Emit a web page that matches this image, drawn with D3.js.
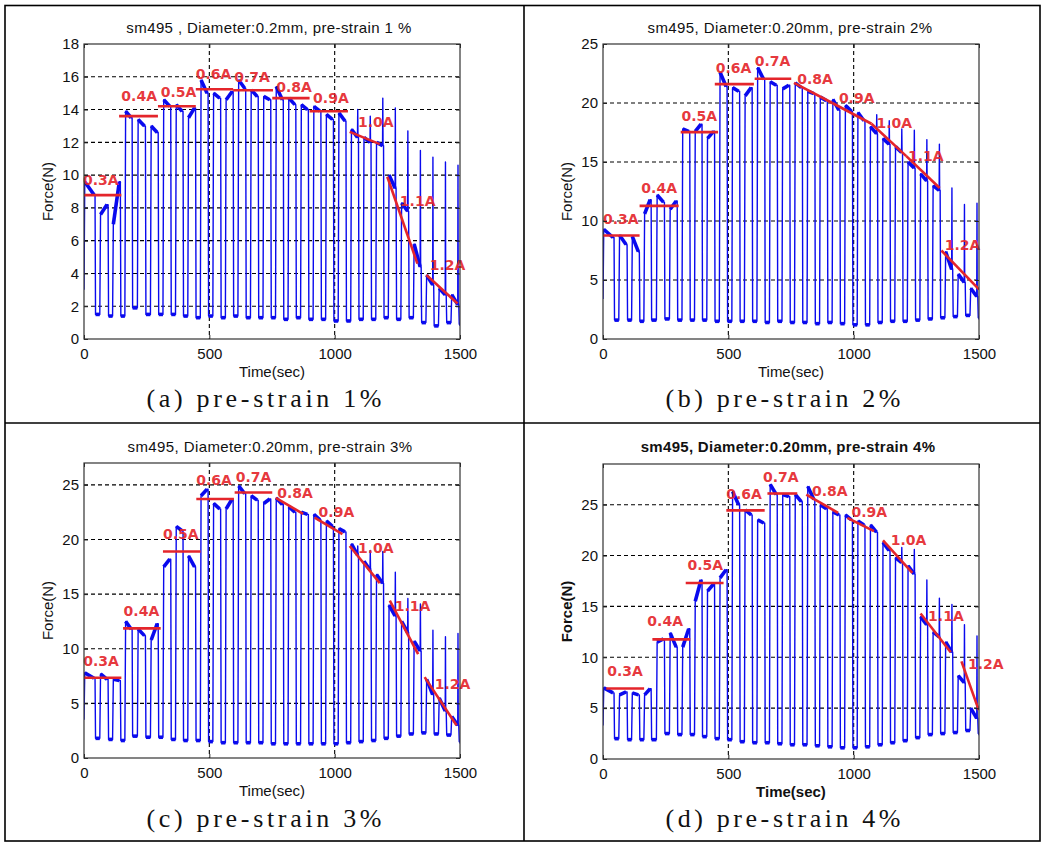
<!DOCTYPE html>
<html><head><meta charset="utf-8">
<script src="https://cdn.jsdelivr.net/npm/d3@7/dist/d3.min.js"></script>
<style>body{margin:0;background:#fff} svg{display:block}</style>
</head><body>
<svg id="chart" width="1050" height="847"></svg>
<script>
// ---------- shared data ----------
const currents = ["0.3A","0.4A","0.5A","0.6A","0.7A","0.8A","0.9A","1.0A","1.1A","1.2A"];
const xTicks = [0, 500, 1000, 1500];
// heating on / off times of each of the 30 cycles (sec)
const onT  = [0, 63, 114, 163, 213, 265, 315, 365, 414, 464, 514, 564, 614, 664, 714, 764, 814, 864, 914, 964, 1014, 1064, 1114, 1164, 1214, 1264, 1314, 1364, 1414, 1464];
const offT = [44, 96, 145, 192, 245, 296, 346, 395, 445, 495, 545, 595, 645, 695, 745, 795, 845, 895, 945, 995, 1045, 1095, 1145, 1195, 1245, 1295, 1345, 1395, 1445, 1495];

// ---------- panel (a) ----------
const aTitle = "sm495 , Diameter:0.2mm, pre-strain 1 %";
const aCaption = "(a) pre-strain 1%";
const aYTicks = [0, 2, 4, 6, 8, 10, 12, 14, 16, 18];
const aYMax = 18;
const aStart = 3.0;
const aHi    = [9.6, 7.6, 7.0, 13.9, 13.4, 13.0, 14.6, 14.3, 13.5, 15.8, 15.0, 14.6, 15.8, 15.2, 14.8, 15.4, 14.7, 14.3, 14.2, 13.7, 13.8, 12.8, 12.3, 12.0, 10.0, 8.3, 5.8, 3.9, 3.1, 2.7];
const aEnd   = [8.8, 8.2, 9.6, 13.5, 13.0, 12.6, 14.2, 13.9, 14.1, 15.0, 14.7, 15.1, 15.3, 14.8, 14.6, 14.6, 14.3, 14.0, 13.9, 13.4, 13.3, 12.3, 12.0, 11.8, 9.2, 7.8, 4.4, 3.3, 2.7, 2.1];
const aLo    = [1.5, 1.4, 1.4, 1.9, 1.5, 1.5, 1.5, 1.4, 1.3, 1.4, 1.3, 1.4, 1.3, 1.3, 1.3, 1.2, 1.3, 1.2, 1.2, 1.1, 1.1, 1.2, 1.2, 1.3, 1.2, 1.3, 1.0, 0.8, 1.0, 0.9];
const aSpike = [0, 0, 0, 0, 0, 0, 0, 0, 0, 0, 0, 0, 0, 0, 0, 0, 0, 0, 0, 0, 0, 14.0, 13.6, 14.7, 14.1, 12.7, 11.5, 11.1, 10.8, 10.6];
// red fit lines [t1, v1, t2, v2] and label anchors [t, v]
const aFit = [[0,8.78,149,8.78],[140,13.6,295,13.6],[295,14.2,446,14.2],[446,15.24,595,15.24],[595,15.18,754,15.18],[751,14.7,900,14.7],[900,13.9,1053,13.9],[1060,12.64,1180,11.89],[1210,9.9,1330,4.6],[1366,3.9,1490,2.17]];
const aLab = [[-4,9.7],[149,14.8],[306,15.1],[446,16.2],[599,16.0],[767,15.35],[914,14.7],[1093,13.25],[1260,8.4],[1379,4.5]];

// ---------- panel (b) ----------
const bTitle = "sm495, Diameter:0.20mm, pre-strain 2%";
const bCaption = "(b) pre-strain 2%";
const bYTicks = [0, 5, 10, 15, 20, 25];
const bYMax = 25;
const bStart = 3.4;
const bHi    = [9.3, 8.8, 8.7, 10.6, 12.2, 11.0, 17.8, 17.6, 17.0, 22.6, 21.3, 20.6, 23.0, 21.8, 21.2, 21.7, 21.0, 20.5, 20.3, 19.8, 19.2, 18.0, 17.0, 16.3, 15.0, 14.0, 13.0, 7.4, 5.5, 4.3];
const bEnd   = [8.6, 8.0, 7.4, 11.8, 11.6, 11.7, 17.6, 18.2, 17.6, 21.4, 21.0, 21.3, 22.0, 21.5, 21.5, 21.3, 20.8, 20.2, 19.4, 19.3, 18.5, 17.4, 16.5, 15.8, 14.5, 13.4, 12.6, 5.9, 4.8, 3.6];
const bLo    = [1.6, 1.6, 1.5, 1.6, 1.7, 1.6, 1.6, 1.6, 1.5, 1.5, 1.5, 1.5, 1.4, 1.5, 1.4, 1.4, 1.3, 1.4, 1.3, 1.2, 1.2, 1.4, 1.5, 1.5, 1.6, 1.7, 1.8, 1.9, 2.0, 1.8];
const bSpike = [0, 0, 0, 0, 0, 0, 0, 0, 0, 0, 0, 0, 0, 0, 0, 0, 0, 0, 0, 0, 0, 19.0, 18.5, 17.8, 17.7, 16.9, 16.5, 12.8, 11.4, 11.5];
const bFit = [[0,8.77,146,8.77],[146,11.28,302,11.28],[310,17.53,459,17.53],[446,21.6,602,21.6],[605,22.06,751,22.06],[762,21.7,915,20.0],[915,20.0,1071,18.24],[1071,18.24,1210,15.5],[1210,15.5,1343,12.8],[1350,7.5,1500,4.2]];
const bLab = [[0,10.2],[153,12.8],[313,18.9],[450,22.96],[605,23.6],[775,22.0],[941,20.4],[1091,18.3],[1217,15.5],[1363,8.0]];

// ---------- panel (c) ----------
const cTitle = "sm495, Diameter:0.20mm, pre-strain 3%";
const cCaption = "(c) pre-strain 3%";
const cYTicks = [0, 5, 10, 15, 20, 25];
const cYMax = 27;
const cStart = 3.5;
const cHi    = [7.8, 7.7, 7.2, 12.5, 11.8, 10.8, 17.5, 21.2, 18.5, 24.0, 23.3, 22.8, 24.9, 24.0, 23.3, 23.8, 23.0, 22.5, 22.3, 21.7, 21.0, 19.6, 18.0, 16.8, 14.0, 12.5, 10.7, 7.2, 5.5, 3.8];
const cEnd   = [7.3, 7.2, 7.1, 11.8, 11.2, 12.3, 18.2, 20.8, 17.5, 24.6, 22.8, 23.7, 24.2, 23.6, 23.7, 23.2, 22.5, 22.3, 21.8, 21.2, 20.7, 18.6, 17.2, 16.0, 13.0, 11.5, 9.8, 5.8, 4.3, 3.0];
const cLo    = [1.8, 1.7, 1.6, 2.0, 1.9, 1.9, 1.7, 1.6, 1.6, 1.5, 1.4, 1.4, 1.4, 1.4, 1.3, 1.3, 1.3, 1.3, 1.3, 1.3, 1.4, 1.5, 1.6, 1.8, 2.0, 2.2, 2.3, 2.2, 2.1, 1.5];
const cSpike = [0, 0, 0, 0, 0, 0, 0, 0, 0, 0, 0, 0, 0, 0, 0, 0, 0, 0, 0, 0, 0, 19.4, 19.0, 18.9, 17.0, 14.6, 14.1, 11.7, 11.1, 11.4];
const cFit = [[0,7.35,149,7.35],[156,11.86,306,11.86],[315,18.9,465,18.9],[448,23.7,598,23.7],[601,24.3,751,24.3],[765,23.8,874,22.35],[920,22.0,1031,20.5],[1060,19.4,1180,16.0],[1220,14.4,1333,9.5],[1359,7.4,1486,3.0]];
const cLab = [[-3,8.9],[158,13.5],[315,20.5],[448,25.4],[605,25.7],[771,24.3],[936,22.5],[1093,19.2],[1240,13.9],[1399,6.8]];

// ---------- panel (d) ----------
const dTitle = "sm495, Diameter:0.20mm, pre-strain 4%";
const dCaption = "(d) pre-strain 4%";
const dYTicks = [0, 5, 10, 15, 20, 25];
const dYMax = 29;
const dStart = 3.3;
const dHi    = [7.0, 6.3, 6.5, 6.3, 11.5, 12.4, 11.0, 15.5, 16.5, 17.8, 26.3, 24.5, 23.5, 27.0, 26.0, 26.0, 26.8, 25.0, 24.3, 24.0, 23.4, 23.0, 21.3, 19.8, 19.0, 14.0, 12.5, 11.5, 8.2, 5.0];
const dEnd   = [6.5, 6.6, 6.3, 6.9, 11.8, 11.0, 12.8, 17.6, 17.2, 18.6, 25.0, 24.0, 23.2, 26.0, 25.8, 25.3, 25.5, 24.6, 24.0, 23.5, 23.0, 22.3, 20.5, 19.3, 18.2, 13.2, 12.0, 10.5, 7.5, 4.0];
const dLo    = [2.0, 1.9, 1.9, 1.9, 2.5, 2.4, 2.4, 2.2, 2.0, 1.9, 1.7, 1.6, 1.6, 1.5, 1.4, 1.4, 1.3, 1.2, 1.1, 1.1, 1.2, 1.4, 1.6, 1.8, 2.1, 2.4, 2.5, 2.6, 2.8, 2.5];
const dSpike = [0, 0, 0, 0, 0, 0, 0, 0, 0, 0, 0, 0, 0, 0, 0, 0, 0, 0, 0, 0, 0, 0, 0, 20.8, 20.6, 17.6, 15.8, 15.2, 13.2, 12.1];
const dFit = [[13,6.93,164,6.93],[197,11.76,348,11.76],[330,17.3,481,17.3],[492,24.44,645,24.44],[656,26.1,775,26.1],[811,26.0,938,24.2],[975,23.7,1081,22.4],[1117,21.5,1234,18.3],[1267,14.3,1387,10.5],[1430,9.6,1499,4.8]];
const dLab = [[17,8.66],[177,13.6],[337,19.05],[492,26.1],[638,27.7],[834,26.3],[991,24.3],[1148,21.5],[1297,14.05],[1456,9.3]];

// ---------- layout ----------
const panels = [
  {title:aTitle, caption:aCaption, yTicks:aYTicks, yMax:aYMax, start:aStart, hi:aHi, end:aEnd, lo:aLo, spike:aSpike, fit:aFit, lab:aLab, bold:false, L:84, R:460, T:44, B:339, cx:272, tx:269, capX:264, titleY:33, xlabY:377, capY:407},
  {title:bTitle, caption:bCaption, yTicks:bYTicks, yMax:bYMax, start:bStart, hi:bHi, end:bEnd, lo:bLo, spike:bSpike, fit:bFit, lab:bLab, bold:false, L:603, R:979, T:44, B:339, cx:791, tx:790, capX:783, titleY:33, xlabY:377, capY:407},
  {title:cTitle, caption:cCaption, yTicks:cYTicks, yMax:cYMax, start:cStart, hi:cHi, end:cEnd, lo:cLo, spike:cSpike, fit:cFit, lab:cLab, bold:false, L:84, R:460, T:463, B:758, cx:272, tx:270, capX:264, titleY:452, xlabY:796, capY:827},
  {title:dTitle, caption:dCaption, yTicks:dYTicks, yMax:dYMax, start:dStart, hi:dHi, end:dEnd, lo:dLo, spike:dSpike, fit:dFit, lab:dLab, bold:true, L:603, R:979, T:464, B:759, cx:791, tx:788, capX:783, titleY:452, xlabY:797, capY:827}
];

const svg = d3.select("#chart");
const RED = "#e4252b", BLUE = "#0a0aee";
const SANS = "'Liberation Sans', Arial, sans-serif";

// frame
svg.append("rect").attr("x",5).attr("y",5.5).attr("width",1035).attr("height",835.5)
  .attr("fill","none").attr("stroke","#000").attr("stroke-width",1.6);
svg.append("line").attr("x1",524).attr("x2",524).attr("y1",5.5).attr("y2",841).attr("stroke","#000").attr("stroke-width",1.6);
svg.append("line").attr("x1",5).attr("x2",1040).attr("y1",423).attr("y2",423).attr("stroke","#000").attr("stroke-width",1.6);

panels.forEach((p, pi) => {
  const x = d3.scaleLinear().domain([0,1500]).range([p.L,p.R]);
  const y = d3.scaleLinear().domain([0,p.yMax]).range([p.B,p.T]);
  const g = svg.append("g");
  const clipId = "clip"+pi;
  g.append("clipPath").attr("id",clipId).append("rect")
    .attr("x",p.L).attr("y",p.T).attr("width",p.R-p.L).attr("height",p.B-p.T);

  // grid
  g.selectAll(".hg").data(p.yTicks.filter(v => v>0 && v<p.yMax)).enter().append("line")
    .attr("x1",p.L).attr("x2",p.R).attr("y1",d=>y(d)).attr("y2",d=>y(d))
    .attr("stroke","#000").attr("stroke-width",1.1).attr("stroke-dasharray","4,3");
  g.selectAll(".vg").data(xTicks.filter(v => v>0 && v<1500)).enter().append("line")
    .attr("y1",p.T).attr("y2",p.B).attr("x1",d=>x(d)).attr("x2",d=>x(d))
    .attr("stroke","#000").attr("stroke-width",1.1).attr("stroke-dasharray","4,3");

  // build signal from per-cycle readings
  const pts = [[0,p.start]];
  const bands = [];
  onT.forEach((on,i) => {
    const off = offT[i];
    if (i>0) pts.push([on, p.lo[i-1]]);
    pts.push([on+3, p.hi[i]]);
    pts.push([off-4, p.end[i]]);
    bands.push([[on+3,p.hi[i]],[off-4,p.end[i]]]);
    if (p.spike[i] > 0) { pts.push([off-3, p.spike[i]]); pts.push([off-2, p.end[i]]); }
    pts.push([off, p.end[i]]);
    pts.push([off+2, p.lo[i]]);
    const nxt = i<onT.length-1 ? onT[i+1] : 1500;
    bands.push([[off+2,p.lo[i]],[nxt,p.lo[i]]]);
  });
  pts.push([1500, p.lo[p.lo.length-1]]);
  const line = d3.line().x(d=>x(d[0])).y(d=>y(d[1]));
  const dg = g.append("g").attr("clip-path",`url(#${clipId})`);
  dg.selectAll(".band").data(bands).enter().append("path")
    .attr("d",line).attr("fill","none").attr("stroke",BLUE).attr("stroke-width",3.6);
  dg.append("path").datum(pts).attr("d",line).attr("fill","none")
    .attr("stroke",BLUE).attr("stroke-width",1.4).attr("stroke-linejoin","round");

  // red fit lines
  dg.selectAll(".fit").data(p.fit).enter().append("line")
    .attr("x1",d=>x(d[0])).attr("y1",d=>y(d[1])).attr("x2",d=>x(d[2])).attr("y2",d=>y(d[3]))
    .attr("stroke",RED).attr("stroke-width",2.6);
  g.selectAll(".lab").data(p.lab).enter().append("text")
    .attr("x",d=>x(d[0])).attr("y",d=>y(d[1])+5)
    .attr("font-family","'DejaVu Sans', Verdana, sans-serif").attr("font-weight","bold")
    .attr("font-size",14).attr("fill",RED).attr("fill-opacity",0.92)
    .text((d,i)=>currents[i]);

  // axes box + ticks
  const fw = p.bold ? "bold" : "normal";
  const axL = g.append("g").attr("transform",`translate(${p.L},0)`)
    .call(d3.axisLeft(y).tickValues(p.yTicks).tickFormat(d3.format("d")).tickSizeInner(-4).tickSizeOuter(0).tickPadding(5));
  const axR = g.append("g").attr("transform",`translate(${p.R},0)`)
    .call(d3.axisRight(y).tickValues(p.yTicks).tickSizeInner(-4).tickSizeOuter(0).tickFormat(""));
  const axB = g.append("g").attr("transform",`translate(0,${p.B})`)
    .call(d3.axisBottom(x).tickValues(xTicks).tickFormat(d3.format("d")).tickSizeInner(-4).tickSizeOuter(0).tickPadding(9));
  const axT = g.append("g").attr("transform",`translate(0,${p.T})`)
    .call(d3.axisTop(x).tickValues(xTicks).tickSizeInner(-4).tickSizeOuter(0).tickFormat(""));
  [axL,axR,axB,axT].forEach(a => {
    a.select(".domain").remove();
    a.selectAll("line").attr("stroke","#222");
    a.selectAll("text").attr("font-family",SANS).attr("font-size",15).attr("fill","#111");
  });
  g.append("rect").attr("x",p.L).attr("y",p.T).attr("width",p.R-p.L).attr("height",p.B-p.T)
    .attr("fill","none").attr("stroke","#333").attr("stroke-width",1.2);

  // texts
  g.append("text").attr("x",p.tx).attr("y",p.titleY).attr("text-anchor","middle")
    .attr("font-family",SANS).attr("font-size",15).attr("font-weight",fw).attr("fill","#111")
    .attr("letter-spacing", p.bold ? 0.3 : 0.4)
    .text(p.title);
  g.append("text").attr("x",p.cx).attr("y",p.xlabY).attr("text-anchor","middle")
    .attr("font-family",SANS).attr("font-size",15).attr("font-weight",fw).attr("fill","#111")
    .text("Time(sec)");
  g.append("text").attr("transform",`translate(${p.L-31},${(p.T+p.B)/2}) rotate(-90)`)
    .attr("text-anchor","middle").attr("font-family",SANS).attr("font-size",15).attr("font-weight",fw).attr("fill","#111")
    .text("Force(N)");
  g.append("text").attr("x",p.capX).attr("y",p.capY).attr("text-anchor","middle")
    .attr("font-family","'Liberation Serif', 'DejaVu Serif', serif").attr("font-size",26).attr("fill","#111")
    .attr("textLength",235).attr("lengthAdjust","spacing")
    .text(p.caption);
});
</script>
</body></html>
